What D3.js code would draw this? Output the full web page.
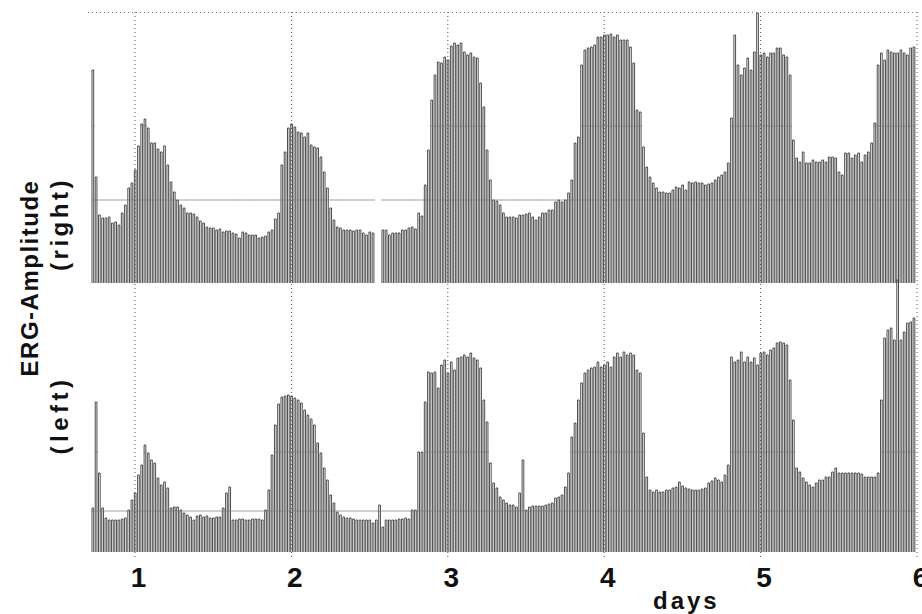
<!DOCTYPE html>
<html>
<head>
<meta charset="utf-8">
<script src="https://cdn.jsdelivr.net/npm/d3@7"></script>
<style>
body { margin: 0; background: #fff; }
text { font-family: "Liberation Sans", Arial, sans-serif; font-weight: bold; fill: #111; }
</style>
</head>
<body>
<div id="ergChart"></div>
<script>
// one recording every 30 min, first one at day 0.725
var dayTicks = [1, 2, 3, 4, 5, 6];
var firstDay = 0.725;
var perDay = 48;

// right eye, amplitude per recording (null = no recording)
var rightAmp = [
  213,106,68,65,65,66,60,61,58,70,
  78,95,100,113,137,159,164,155,140,140,
  134,131,137,118,101,91,83,78,75,70,
  70,69,66,62,60,56,55,55,53,54,
  51,52,52,50,49,45,51,50,48,48,
  48,45,46,47,51,53,64,70,118,131,
  155,159,156,151,150,146,150,138,136,135,
  126,111,95,75,63,56,55,53,53,53,
  52,53,53,50,48,51,50,null,null,53,
  53,48,50,50,50,53,53,55,56,54,
  70,67,98,133,183,208,221,220,226,223,
  237,240,238,240,231,228,230,226,225,200,
  176,133,103,83,82,78,70,66,66,66,
  65,68,68,69,70,66,63,66,70,70,
  73,73,81,83,81,83,90,103,140,146,
  218,233,235,236,238,246,246,248,248,249,
  246,248,243,243,243,236,220,173,171,136,
  116,106,100,95,91,91,90,90,93,96,
  95,98,93,101,100,101,100,100,98,99,
  100,103,106,108,111,120,165,248,218,208,
  215,225,213,231,270,228,230,226,230,230,
  235,235,228,226,208,143,125,121,131,120,
  120,123,121,121,123,121,126,126,125,111,
  108,130,130,125,128,130,121,128,131,140,
  160,218,230,223,233,231,230,230,233,230,
  228,235,236
];

// left eye
var leftAmp = [
  44,150,79,44,34,32,32,32,32,33,
  34,42,52,59,77,87,107,99,92,89,
  74,67,70,64,44,45,45,42,39,37,
  35,32,36,37,35,36,34,34,35,35,
  44,59,65,32,32,33,33,32,32,33,
  33,33,32,42,62,97,127,148,155,156,
  157,156,154,152,149,142,137,133,127,109,
  99,84,72,57,49,40,37,35,34,34,
  33,32,32,32,32,32,29,32,47,25,
  32,32,32,32,33,33,34,33,42,42,
  100,100,150,180,179,180,164,187,192,179,
  190,182,194,195,197,195,199,194,192,184,
  152,130,89,69,64,55,52,49,47,47,
  45,59,92,42,45,46,46,46,46,47,
  48,49,54,55,57,65,79,115,129,152,
  169,179,182,184,185,190,185,187,190,185,
  195,199,195,200,197,199,197,182,179,119,
  75,62,60,62,60,60,62,62,64,65,
  70,66,64,63,62,62,62,63,64,69,
  71,74,72,70,77,87,195,190,192,200,
  190,195,190,194,187,199,200,197,202,204,
  209,210,209,207,172,132,84,80,74,70,
  67,65,69,72,72,75,75,80,84,79,
  79,79,79,79,79,79,78,75,75,75,
  75,79,152,214,222,224,212,272,212,220,
  229,230,234
];

var width = 922, height = 614;

var svg = d3.select("#ergChart").append("svg")
  .attr("width", width)
  .attr("height", height);

var x = d3.scaleLinear()
  .domain([1, 6])
  .range([135, 917]);
var step = x(1 + 1 / perDay) - x(1);

var panels = [
  { name: "right", data: rightAmp, base: 283, levels: [83, 157] },
  { name: "left", data: leftAmp, base: 552, levels: [41, 100] }
];

// dotted day lines and top frame
svg.selectAll(".grid")
  .data(dayTicks)
  .enter().append("line")
  .attr("class", "grid")
  .attr("x1", function (d) { return x(d); })
  .attr("x2", function (d) { return x(d); })
  .attr("y1", 12)
  .attr("y2", 558)
  .attr("stroke", "#555")
  .attr("stroke-width", 1)
  .attr("stroke-dasharray", "1,3");

svg.append("line")
  .attr("x1", x(firstDay) - 4)
  .attr("x2", x(6))
  .attr("y1", 12.5)
  .attr("y2", 12.5)
  .attr("stroke", "#777")
  .attr("stroke-dasharray", "1,3");

panels.forEach(function (p) {
  var y = d3.scaleLinear()
    .domain([0, 270])
    .range([p.base, p.base - 270]);

  var recs = p.data.map(function (v, i) {
    return { day: firstDay + i / perDay, amp: v };
  }).filter(function (d) { return d.amp != null; });

  var g = svg.append("g").attr("class", "panel-" + p.name);

  // each recording drawn as a narrow loop up to its amplitude
  g.selectAll(".rec")
    .data(recs)
    .enter().append("path")
    .attr("class", "rec")
    .attr("d", function (d) {
      var x0 = x(d.day);
      return "M" + x0 + "," + p.base + "V" + y(d.amp) + "H" + (x0 + 1.7) + "V" + p.base;
    })
    .attr("fill", "none")
    .attr("stroke", "#3a3a3a")
    .attr("stroke-width", 0.9);

  // plotter seams: lower one across all traces, upper one only on tall ones
  p.levels.forEach(function (lv, k) {
    g.selectAll(".seam" + k)
      .data(recs.filter(function (d) { return k == 0 || d.amp > lv; }))
      .enter().append("line")
      .attr("class", "seam" + k)
      .attr("x1", function (d) { return x(d.day) - 0.6; })
      .attr("x2", function (d) { return x(d.day) + step - 0.6; })
      .attr("y1", y(lv))
      .attr("y2", y(lv))
      .attr("stroke", "#777")
      .attr("stroke-width", 0.7);
  });
});

// day axis
var xAxis = d3.axisBottom(x)
  .tickValues(dayTicks)
  .tickSize(0)
  .tickPadding(7)
  .tickFormat(d3.format("d"));

var axisG = svg.append("g")
  .attr("class", "x axis")
  .attr("transform", "translate(0,560)")
  .call(xAxis);
axisG.select(".domain").remove();
axisG.selectAll("text")
  .attr("dx", 3)
  .style("font-size", "28px")
  .style("font-family", "'Liberation Sans', Arial, sans-serif")
  .style("font-weight", "bold")
  .attr("fill", "#111");

svg.append("text")
  .attr("x", 653)
  .attr("y", 609)
  .style("font-size", "24px")
  .style("letter-spacing", "3px")
  .text("days");

// y labels
svg.append("text")
  .attr("transform", "translate(38,278) rotate(-90)")
  .style("text-anchor", "middle")
  .style("font-size", "24px")
  .style("letter-spacing", "1.5px")
  .text("ERG-Amplitude");

svg.append("text")
  .attr("transform", "translate(68,224) rotate(-90)")
  .style("text-anchor", "middle")
  .style("font-size", "24px")
  .style("letter-spacing", "3.5px")
  .text("(right)");

svg.append("text")
  .attr("transform", "translate(68,415) rotate(-90)")
  .style("text-anchor", "middle")
  .style("font-size", "24px")
  .style("letter-spacing", "4.5px")
  .text("(left)");
</script>
</body>
</html>
